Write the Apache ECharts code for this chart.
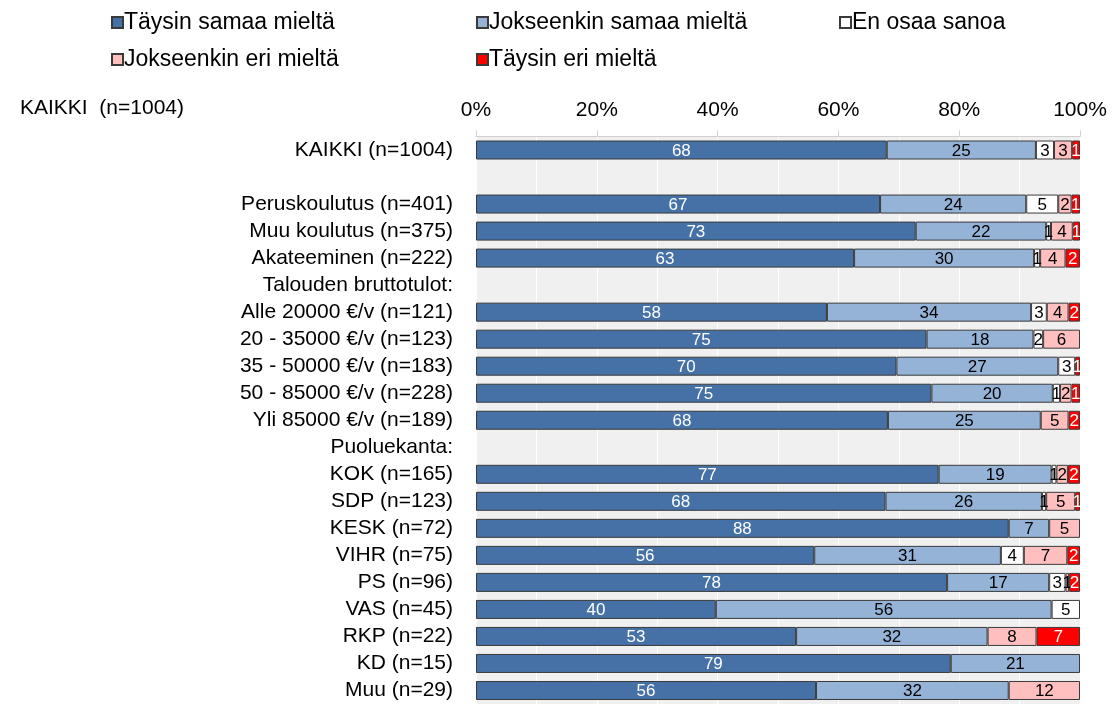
<!DOCTYPE html>
<html><head><meta charset="utf-8">
<script src="https://cdn.jsdelivr.net/npm/echarts@6/dist/echarts.min.js"></script>
<style>html,body{margin:0;padding:0;background:#fff}#c{width:1115px;height:704px}</style>
</head><body><div id="c"></div>
<script>
const categories = ["KAIKKI (n=1004)", "", "Peruskoulutus (n=401)", "Muu koulutus (n=375)", "Akateeminen (n=222)",
  "Talouden bruttotulot:", "Alle 20000 €/v (n=121)", "20 - 35000 €/v (n=123)", "35 - 50000 €/v (n=183)",
  "50 - 85000 €/v (n=228)", "Yli 85000 €/v (n=189)", "Puoluekanta:", "KOK (n=165)", "SDP (n=123)",
  "KESK (n=72)", "VIHR (n=75)", "PS (n=96)", "VAS (n=45)", "RKP (n=22)", "KD (n=15)", "Muu (n=29)"];
const seriesNames = ["Täysin samaa mieltä", "Jokseenkin samaa mieltä", "En osaa sanoa", "Jokseenkin eri mieltä", "Täysin eri mieltä"];
const taysinSamaa = [68.0, null, 66.9, 72.8, 62.6, null, 58.1, 74.6, 69.6, 75.4, 68.2, null, 76.6, 67.8, 88.2, 56.0, 78.0, 39.7, 53.0, 78.6, 56.3];
const jokseenkinSamaa = [24.7, null, 24.2, 21.6, 29.8, null, 33.8, 17.7, 26.8, 20.1, 25.3, null, 18.7, 25.9, 6.7, 30.9, 16.9, 55.6, 31.7, 21.4, 31.9];
const enOsaa = [3.0, null, 5.3, 0.8, 1.0, null, 2.6, 1.6, 2.8, 1.2, null, null, 0.8, 0.7, null, 3.8, 2.7, 4.7, null, null, null];
const jokseenkinEri = [3.0, null, 2.2, 3.6, 4.2, null, 3.6, 6.1, null, 1.9, 4.6, null, 1.9, 4.8, 5.1, 7.2, 0.6, null, 8.1, null, 11.8];
const taysinEri = [1.3, null, 1.4, 1.2, 2.4, null, 1.9, null, 0.8, 1.4, 1.9, null, 2.0, 0.8, null, 2.1, 1.8, null, 7.2, null, null];
const xTicks = [0, 20, 40, 60, 80, 100];

const colors = ["#4571a6", "#95b3d7", "#ffffff", "#ffbfbf", "#ff0000"];
const labelColors = ["#ffffff", "#000000", "#000000", "#000000", "#ffffff"];
const values = [taysinSamaa, jokseenkinSamaa, enOsaa, jokseenkinEri, taysinEri];
const FONT = "Liberation Sans, Arial, sans-serif";

const chart = echarts.init(document.getElementById('c'), null, {renderer: 'canvas'});
const series = seriesNames.map((n, i) => ({
  name: n, type: 'bar', stack: 'all', barWidth: 19,
  data: values[i],
  itemStyle: {color: colors[i], borderColor: '#3a3a3a', borderWidth: 1},
  label: {show: true, position: 'inside', offset: [0, 1], color: labelColors[i], fontSize: 17, fontFamily: FONT,
    formatter: p => (p.value == null ? '' : String(Math.round(p.value)))},
  emphasis: {disabled: true}
}));
const legendBase = {orient: 'vertical', itemWidth: 11, itemHeight: 11, itemGap: 14, icon: 'rect',
  textStyle: {fontSize: 23, fontFamily: FONT, color: '#000', padding: [0, 0, 0, -4]}, selectedMode: false};
chart.setOption({
  animation: false,
  textStyle: {fontFamily: FONT},
  legend: [
    Object.assign({}, legendBase, {left: 106, top: 6, data: [seriesNames[0], seriesNames[3]]}),
    Object.assign({}, legendBase, {left: 471, top: 6, data: [seriesNames[1], seriesNames[4]]}),
    Object.assign({}, legendBase, {left: 834, top: 6, data: [seriesNames[2]]})
  ],
  graphic: [{type: 'text', left: 20, top: 98, style: {text: 'KAIKKI  (n=1004)', fontSize: 21, fontFamily: FONT, fill: '#000'}}],
  grid: {left: 476, right: 35, top: 136.5, height: 569, show: true, backgroundColor: '#f0f0f0', borderWidth: 0, containLabel: false},
  xAxis: {type: 'value', position: 'top', min: 0, max: 100, interval: 20,
    axisLine: {show: true, lineStyle: {color: '#d0d0d0'}},
    axisTick: {show: true, length: 6, lineStyle: {color: '#d0d0d0'}},
    axisLabel: {fontSize: 21, color: '#000', fontFamily: FONT, margin: 16,
      formatter: v => (xTicks.indexOf(v) >= 0 ? v + '%' : '')},
    splitLine: {show: true, lineStyle: {color: '#ffffff', width: 1}},
    minorTick: {show: false, splitNumber: 2},
    minorSplitLine: {show: true, lineStyle: {color: '#ffffff', width: 1}}
  },
  yAxis: {type: 'category', inverse: true, data: categories,
    axisLine: {show: false}, axisTick: {show: false},
    axisLabel: {fontSize: 21, color: '#000', fontFamily: FONT, margin: 23, interval: 0}
  },
  series: series
});
</script></body></html>
